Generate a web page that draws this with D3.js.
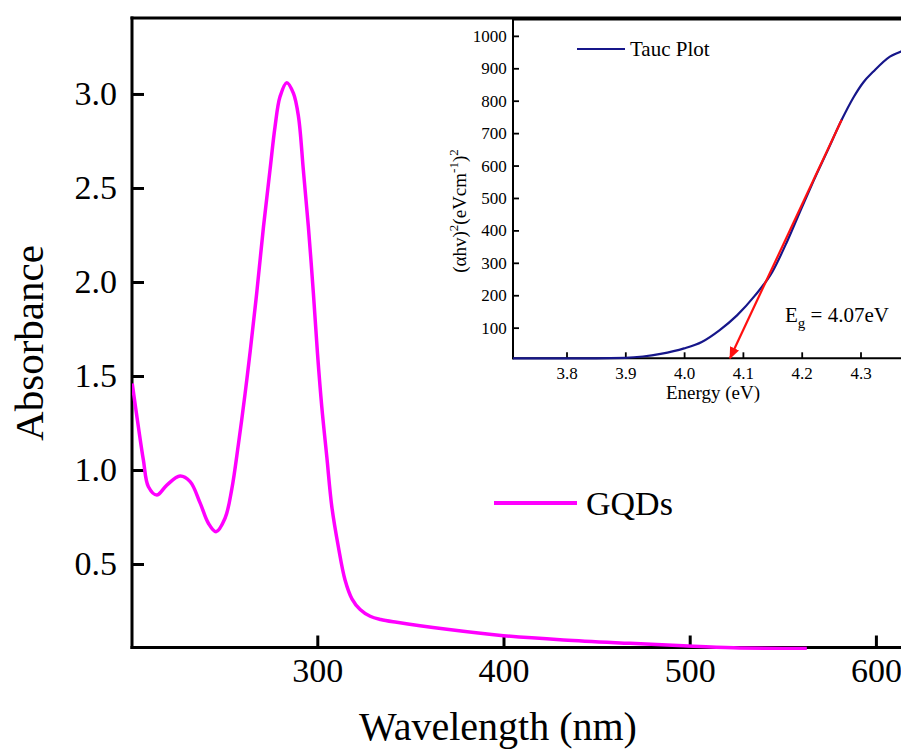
<!DOCTYPE html>
<html><head><meta charset="utf-8">
<script src="https://cdn.jsdelivr.net/npm/d3@7"></script>
<style>
body{margin:0;background:#fff}
text{font-family:"Liberation Serif","Times New Roman",serif;fill:#000}
</style>
</head><body>
<svg id="c" width="901" height="749"></svg>
<script>
// ---- Main UV-Vis spectrum ----
const wavelength = [200.6, 203.9, 206.6, 209.3, 213.8, 219.2, 226.3, 231.7, 237.1, 241.5, 245.6, 250.5, 254.1, 257.6, 261.2, 264.0, 267.5, 271.1, 274.6, 277.3, 280.0, 283.6, 287.2, 289.9, 292.5, 295.2, 297.9, 300.1, 302.4, 305.1, 307.8, 311.3, 314.9, 318.6, 323.0, 328.4, 334.0, 342.7, 369.6, 400.0, 432.2, 468.0, 496.6, 523.5, 562.9];
const absorbance = [1.46, 1.23, 1.053, 0.911, 0.867, 0.92, 0.968, 0.938, 0.824, 0.717, 0.672, 0.745, 0.90, 1.135, 1.405, 1.635, 1.945, 2.294, 2.596, 2.826, 2.986, 3.06, 3.003, 2.879, 2.596, 2.294, 1.94, 1.62, 1.337, 1.071, 0.805, 0.592, 0.415, 0.315, 0.258, 0.222, 0.205, 0.19, 0.153, 0.119, 0.096, 0.078, 0.065, 0.055, 0.051];
const mainXTicks = [300, 400, 500, 600];
const mainYTicks = [0.5, 1.0, 1.5, 2.0, 2.5, 3.0];
const seriesName = "GQDs";

// ---- Inset Tauc plot ----
const energy = [3.709, 3.80, 3.85, 3.90, 3.93, 3.96, 4.0, 4.03, 4.06, 4.09, 4.12, 4.15, 4.175, 4.20, 4.22, 4.245, 4.268, 4.288, 4.305, 4.322, 4.35, 4.369, 4.40];
const tauc = [5.5, 5.5, 5.5, 7, 11, 19, 36, 56, 92, 138, 198, 272, 365, 470, 552, 650, 741, 810, 857, 890, 936, 952, 965];
const tangentEnergy = [4.078, 4.268];
const tangentTauc = [5.5, 741];
const insetXTicks = [3.8, 3.9, 4.0, 4.1, 4.2, 4.3];
const insetYTicks = [100, 200, 300, 400, 500, 600, 700, 800, 900, 1000];
const insetName = "Tauc Plot";
const gapLabel = "4.07eV";

const svg = d3.select("#c");
const defs = svg.append("defs");

// main scales
const x = d3.scaleLinear().domain([200, 700]).range([131.1, 1062.1]);
const y = d3.scaleLinear().domain([0.056, 3.404]).range([647.5, 18]);

defs.append("clipPath").attr("id","mainclip")
  .append("rect").attr("x",132).attr("y",18).attr("width",900).attr("height",632);

// main axes
const gx = svg.append("g").attr("transform","translate(0,647.5)")
  .call(d3.axisBottom(x).tickValues(mainXTicks).tickSizeInner(-12).tickSizeOuter(0).tickPadding(10.5).tickFormat(d3.format("d")));
const gy = svg.append("g").attr("transform","translate(132,0)")
  .call(d3.axisLeft(y).tickValues(mainYTicks).tickSizeInner(-12).tickSizeOuter(0).tickPadding(15).tickFormat(d3.format(".1f")));
[gx, gy].forEach(g=>{
  g.select(".domain").attr("stroke","#000").attr("stroke-width",3);
  g.selectAll(".tick line").attr("stroke","#000").attr("stroke-width",3);
  g.selectAll(".tick text").style("font-family",'"Liberation Serif","Times New Roman",serif').style("font-size","34px").attr("fill","#000");
});
gx.select(".domain").attr("d","M130.5,0H901");
gy.select(".domain").attr("d","M0,16.5V649");
// top frame
svg.append("line").attr("x1",130.5).attr("x2",901).attr("y1",y(3.404)).attr("y2",y(3.404)).attr("stroke","#000").attr("stroke-width",3);

// main curve (drawn over the axes)
const line = d3.line().x((d,i)=>x(wavelength[i])).y((d,i)=>y(absorbance[i])).curve(d3.curveCatmullRom.alpha(0.5));
svg.append("path").datum(absorbance).attr("d", line)
  .attr("fill","none").attr("stroke","#ff00ff").attr("stroke-width",3.5)
  .attr("clip-path","url(#mainclip)");

// axis titles
svg.append("text").attr("transform","translate(43,343) rotate(-90)").attr("text-anchor","middle")
  .style("font-size","41px").text("Absorbance");
svg.append("text").attr("x",498).attr("y",740).attr("text-anchor","middle")
  .style("font-size","40px").text("Wavelength (nm)");

// main legend
svg.append("line").attr("x1",494).attr("x2",577).attr("y1",503).attr("y2",503).attr("stroke","#ff00ff").attr("stroke-width",4);
svg.append("text").attr("x",586).attr("y",515).style("font-size","34px").text(seriesName);

// ---- inset ----
const ix = d3.scaleLinear().domain([3.709, 4.45]).range([513, 948.7]);
const iy = d3.scaleLinear().domain([5.5, 1052]).range([358.3, 19]);
const inset = svg.append("g");
inset.append("rect").attr("x",513).attr("y",19).attr("width",450).attr("height",339.3).attr("fill","#fff");

const igx = inset.append("g").attr("transform","translate(0,358.3)")
  .call(d3.axisBottom(ix).tickValues(insetXTicks).tickSizeInner(-6).tickSizeOuter(0).tickPadding(9).tickFormat(d3.format(".1f")));
const igy = inset.append("g").attr("transform","translate(513,0)")
  .call(d3.axisLeft(iy).tickValues(insetYTicks).tickSizeInner(-6).tickSizeOuter(0).tickPadding(6.3).tickFormat(d3.format("d")));
[igx, igy].forEach(g=>{
  g.select(".domain").attr("stroke","#000").attr("stroke-width",2);
  g.selectAll(".tick line").attr("stroke","#000").attr("stroke-width",1.8);
  g.selectAll(".tick text").style("font-family",'"Liberation Serif","Times New Roman",serif').style("font-size","17px").attr("fill","#000");
});
igx.select(".domain").attr("d","M512,0H901");
igy.select(".domain").attr("d","M0,18V359.3");
inset.append("line").attr("x1",512).attr("x2",901).attr("y1",19.5).attr("y2",19.5).attr("stroke","#000").attr("stroke-width",2);

const iline = d3.line().x((d,i)=>ix(energy[i])).y((d,i)=>iy(tauc[i])).curve(d3.curveMonotoneX);
inset.append("path").datum(tauc).attr("d", iline).attr("fill","none").attr("stroke","#16168a").attr("stroke-width",2.2);

// tangent with arrow
defs.append("marker").attr("id","arr").attr("viewBox","0 0 12 10").attr("refX",11).attr("refY",5)
  .attr("markerWidth",12).attr("markerHeight",10).attr("markerUnits","userSpaceOnUse").attr("orient","auto-start-reverse")
  .append("path").attr("d","M0,0L12,5L0,10Z").attr("fill","#ff1010");
inset.append("line")
  .attr("x1",ix(tangentEnergy[1])).attr("y1",iy(tangentTauc[1]))
  .attr("x2",ix(tangentEnergy[0])).attr("y2",iy(tangentTauc[0]))
  .attr("stroke","#ff1010").attr("stroke-width",2.2).attr("marker-end","url(#arr)");

// inset titles
inset.append("text").attr("x",713).attr("y",399).attr("text-anchor","middle").style("font-size","19px").text("Energy (eV)");
const yl = inset.append("text").attr("transform","translate(466,211) rotate(-90)").attr("text-anchor","middle").style("font-size","19px");
yl.append("tspan").text("(αhv)");
yl.append("tspan").attr("dy",-8).style("font-size","13px").text("2");
yl.append("tspan").attr("dy",8).text("(eVcm");
yl.append("tspan").attr("dy",-8).style("font-size","13px").text("-1");
yl.append("tspan").attr("dy",8).text(")");
yl.append("tspan").attr("dy",-8).style("font-size","13px").text("2");

// inset legend
inset.append("line").attr("x1",577).attr("x2",625).attr("y1",49).attr("y2",49).attr("stroke","#16168a").attr("stroke-width",2);
inset.append("text").attr("x",630).attr("y",55.5).style("font-size","21px").text(insetName);

// Eg label
const eg = inset.append("text").attr("x",785).attr("y",321.7).style("font-size","21px");
eg.append("tspan").text("E");
eg.append("tspan").attr("dy",6).style("font-size","15px").text("g");
eg.append("tspan").attr("dy",-6).text(" = " + gapLabel);
</script>
</body></html>
